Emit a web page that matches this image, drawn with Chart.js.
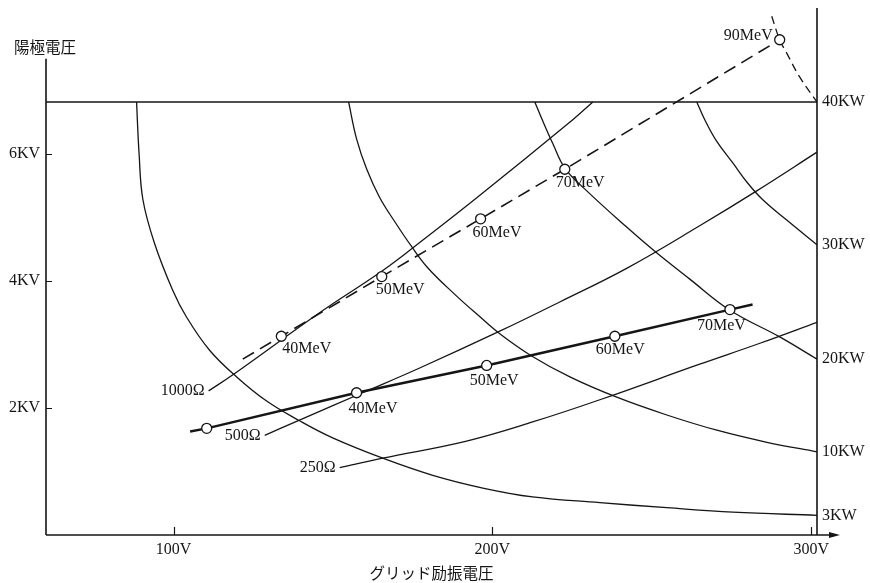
<!DOCTYPE html>
<html lang="ja">
<head>
<meta charset="utf-8">
<title>陽極電圧とグリッド励振電圧</title>
<style>
  html, body { margin: 0; padding: 0; background: #fff; }
  canvas { display: block; }
</style>
<script src="https://cdn.jsdelivr.net/npm/chart.js@4.4.1/dist/chart.umd.min.js"></script>
</head>
<body>
<canvas id="chart" width="870" height="583"></canvas>
<script>
// ---- data: grid drive voltage (V) vs anode voltage (kV) ----

// anode voltage limit line
const limitV  = [60, 301.8];
const limitKV = [6.82, 6.82];

// constant output power curves
const kw3V   = [88.4, 89.2, 90.4, 94.0, 99.7, 104.1, 111.3, 119.8, 129.2, 139.5, 149.9, 165.6, 181.3, 197.0, 212.6, 233.7, 254.7, 275.4, 301.8];
const kw3KV  = [6.82, 6.00, 5.28, 4.60, 3.86, 3.43, 2.91, 2.49, 2.11, 1.80, 1.53, 1.21, 0.94, 0.74, 0.60, 0.51, 0.43, 0.36, 0.31];
const kw10V  = [154.9, 157.4, 160.6, 164.6, 169.7, 174.7, 179.7, 188.2, 196.0, 202.3, 212.3, 224.3, 239.0, 254.7, 270.4, 286.1, 301.8];
const kw10KV = [6.82, 6.24, 5.76, 5.32, 4.91, 4.54, 4.21, 3.79, 3.44, 3.17, 2.82, 2.49, 2.17, 1.89, 1.65, 1.46, 1.31];
const kw20V  = [213.3, 215.8, 218.9, 222.7, 229.6, 242.1, 251.6, 261.9, 274.5, 290.1, 301.8];
const kw20KV = [6.82, 6.52, 6.17, 5.78, 5.42, 4.85, 4.44, 4.03, 3.54, 3.12, 2.77];
const kw30V  = [264.1, 266.6, 270.1, 275.4, 280.1, 284.8, 292.3, 301.8];
const kw30KV = [6.82, 6.54, 6.22, 5.86, 5.54, 5.28, 4.96, 4.57];
const kw40V  = [287.6, 290.1, 292.3, 296.4, 301.8];
const kw40KV = [8.17, 7.80, 7.59, 7.21, 6.82];
const kwNames = ['3KW', '10KW', '20KW', '30KW', '40KW'];

// load resistance lines
const r1000V  = [111.0, 118.5, 145.8, 164.6, 175.0, 195.1, 225.2, 231.5];
const r1000KV = [2.27, 2.52, 3.50, 4.13, 4.52, 5.31, 6.54, 6.82];
const r500V   = [128.6, 139.5, 159.3, 177.2, 202.3, 221.1, 242.1, 265.0, 282.9, 301.8];
const r500KV  = [1.57, 1.81, 2.24, 2.63, 3.21, 3.67, 4.20, 4.87, 5.42, 6.03];
const r250V   = [152.1, 165.6, 191.9, 212.6, 233.7, 265.0, 283.9, 301.8];
const r250KV  = [1.06, 1.21, 1.48, 1.78, 2.13, 2.69, 3.02, 3.35];
const rNames  = ['1000Ω', '500Ω', '250Ω'];

// operating points (beam energy, MeV)
const upperV   = [121.7, 133.8, 165.3, 196.3, 222.7, 290.1];
const upperKV  = [2.77, 3.13, 4.07, 4.98, 5.76, 7.80];
const upperMeV = [null, 40, 50, 60, 70, 90];
const lowerV   = [105.2, 110.4, 157.4, 198.2, 238.4, 274.5, 281.6];
const lowerKV  = [1.63, 1.68, 2.24, 2.67, 3.13, 3.55, 3.63];
const lowerMeV = [null, 0, 40, 50, 60, 70, null];   // 0 = marked point without caption

// axis ticks
const xTicks = [100, 200, 300];
const xTickLabels = ['100V', '200V', '300V'];
const yTicks = [2, 4, 6];
const yTickLabels = ['2KV', '4KV', '6KV'];

// ---- styling ----
const ink = '#151515';
const serif = '"Liberation Serif", "DejaVu Serif", serif';
const jp = '"Noto Sans CJK JP", sans-serif';
const leftAxisTopKV = 7.5;

// caption offsets (px) relative to each marker: [dx, dy, align]
const upperLabelPos = [null, [1, 13, 'left'], [-6, 13, 'left'], [-8, 14, 'left'], [-9, 14, 'left'], [-7, -4, 'right']];
const lowerLabelPos = [null, null, [-8, 16, 'left'], [-17, 15, 'left'], [-19, 14, 'left'], [-33, 16, 'left'], null];

const pts = (xs, ys) => xs.map((x, i) => ({ x, y: ys[i] }));

function curve(xs, ys, extra) {
  return Object.assign({
    data: pts(xs, ys),
    showLine: true,
    borderColor: ink,
    borderWidth: 1.3,
    pointRadius: 0,
    tension: 0.4,
    fill: false,
    order: 2
  }, extra || {});
}

const markerRadius = (labels) => labels.map((m) => (m === null ? 0 : 5));

const datasets = [
  curve(limitV, limitKV, { borderWidth: 1.5, tension: 0 }),
  curve(kw3V, kw3KV),
  curve(kw10V, kw10KV),
  curve(kw20V, kw20KV),
  curve(kw30V, kw30KV),
  curve(kw40V, kw40KV, { borderDash: [8, 5] }),
  curve(r1000V, r1000KV),
  curve(r500V, r500KV),
  curve(r250V, r250KV),
  curve(upperV, upperKV, {
    tension: 0,
    borderWidth: 1.6, borderDash: [13, 7],
    pointRadius: markerRadius(upperMeV),
    pointBackgroundColor: '#fff', pointBorderColor: ink, pointBorderWidth: 1.3,
    order: 0
  }),
  curve(lowerV, lowerKV, {
    tension: 0,
    borderWidth: 2.4,
    pointRadius: markerRadius(lowerMeV),
    pointBackgroundColor: '#fff', pointBorderColor: ink, pointBorderWidth: 1.3,
    order: 0
  })
];

// axes, ticks and all captions
const decor = {
  id: 'decor',
  beforeDatasetsDraw(chart) {
    const { ctx, chartArea: a, scales: { x, y } } = chart;
    ctx.save();
    ctx.strokeStyle = ink;
    ctx.fillStyle = ink;
    ctx.lineWidth = 1.6;
    ctx.beginPath();
    ctx.moveTo(a.left, y.getPixelForValue(leftAxisTopKV));
    ctx.lineTo(a.left, a.bottom);
    ctx.moveTo(a.right, a.top);
    ctx.lineTo(a.right, a.bottom);
    ctx.moveTo(a.left, a.bottom);
    ctx.lineTo(a.right + 16, a.bottom);
    ctx.stroke();
    // arrow head on the voltage axis
    ctx.beginPath();
    ctx.moveTo(a.right + 23, a.bottom);
    ctx.lineTo(a.right + 12, a.bottom - 3);
    ctx.lineTo(a.right + 12, a.bottom + 3);
    ctx.closePath();
    ctx.fill();
    // inner tick marks
    ctx.lineWidth = 1.2;
    ctx.beginPath();
    yTicks.forEach((v) => {
      const py = Math.round(y.getPixelForValue(v)) + 0.5;
      ctx.moveTo(a.left, py);
      ctx.lineTo(a.left + 6, py);
    });
    xTicks.forEach((v) => {
      const px = Math.round(x.getPixelForValue(v)) + 0.5;
      ctx.moveTo(px, a.bottom);
      ctx.lineTo(px, a.bottom - 8);
    });
    ctx.stroke();
    ctx.restore();
  },
  afterDatasetsDraw(chart) {
    const { ctx, chartArea: a, scales: { x, y } } = chart;
    ctx.save();
    ctx.fillStyle = ink;
    ctx.textBaseline = 'middle';
    ctx.font = '16px ' + serif;

    // tick labels
    ctx.textAlign = 'right';
    yTicks.forEach((v, i) => ctx.fillText(yTickLabels[i], a.left - 6, y.getPixelForValue(v)));
    ctx.textAlign = 'center';
    xTicks.forEach((v, i) => ctx.fillText(xTickLabels[i], x.getPixelForValue(v), a.bottom + 15));

    // power labels at the right edge
    ctx.textAlign = 'left';
    const kwEnds = [kw3KV, kw10KV, kw20KV, kw30KV, kw40KV].map((arr) => arr[arr.length - 1]);
    kwNames.forEach((name, i) => ctx.fillText(name, a.right + 5, y.getPixelForValue(kwEnds[i])));

    // resistance labels before each line
    ctx.textAlign = 'right';
    [[r1000V, r1000KV], [r500V, r500KV], [r250V, r250KV]].forEach(([vs, ks], i) => {
      ctx.fillText(rNames[i], x.getPixelForValue(vs[0]) - 4, y.getPixelForValue(ks[0]));
    });

    // energy captions
    const caption = (vs, ks, mev, pos) => {
      mev.forEach((m, i) => {
        if (!m || !pos[i]) return;
        const [dx, dy, align] = pos[i];
        ctx.textAlign = align;
        ctx.fillText(m + 'MeV', x.getPixelForValue(vs[i]) + dx, y.getPixelForValue(ks[i]) + dy);
      });
    };
    caption(upperV, upperKV, upperMeV, upperLabelPos);
    caption(lowerV, lowerKV, lowerMeV, lowerLabelPos);

    // axis titles
    ctx.font = '15.5px ' + jp;
    ctx.textAlign = 'left';
    ctx.fillText('陽極電圧', 14, 47);
    ctx.textAlign = 'center';
    ctx.fillText('グリッド励振電圧', (a.left + a.right) / 2, 573);
    ctx.restore();
  }
};

new Chart(document.getElementById('chart'), {
  type: 'scatter',
  data: { datasets },
  options: {
    responsive: false,
    animation: false,
    devicePixelRatio: 1,
    layout: { padding: { left: 46, right: 53, top: 8, bottom: 48 } },
    plugins: { legend: { display: false }, tooltip: { enabled: false } },
    scales: {
      x: { type: 'linear', min: 60, max: 301.8, display: false },
      y: { type: 'linear', min: 0, max: 8.3, display: false }
    }
  },
  plugins: [decor]
});
</script>
</body>
</html>
